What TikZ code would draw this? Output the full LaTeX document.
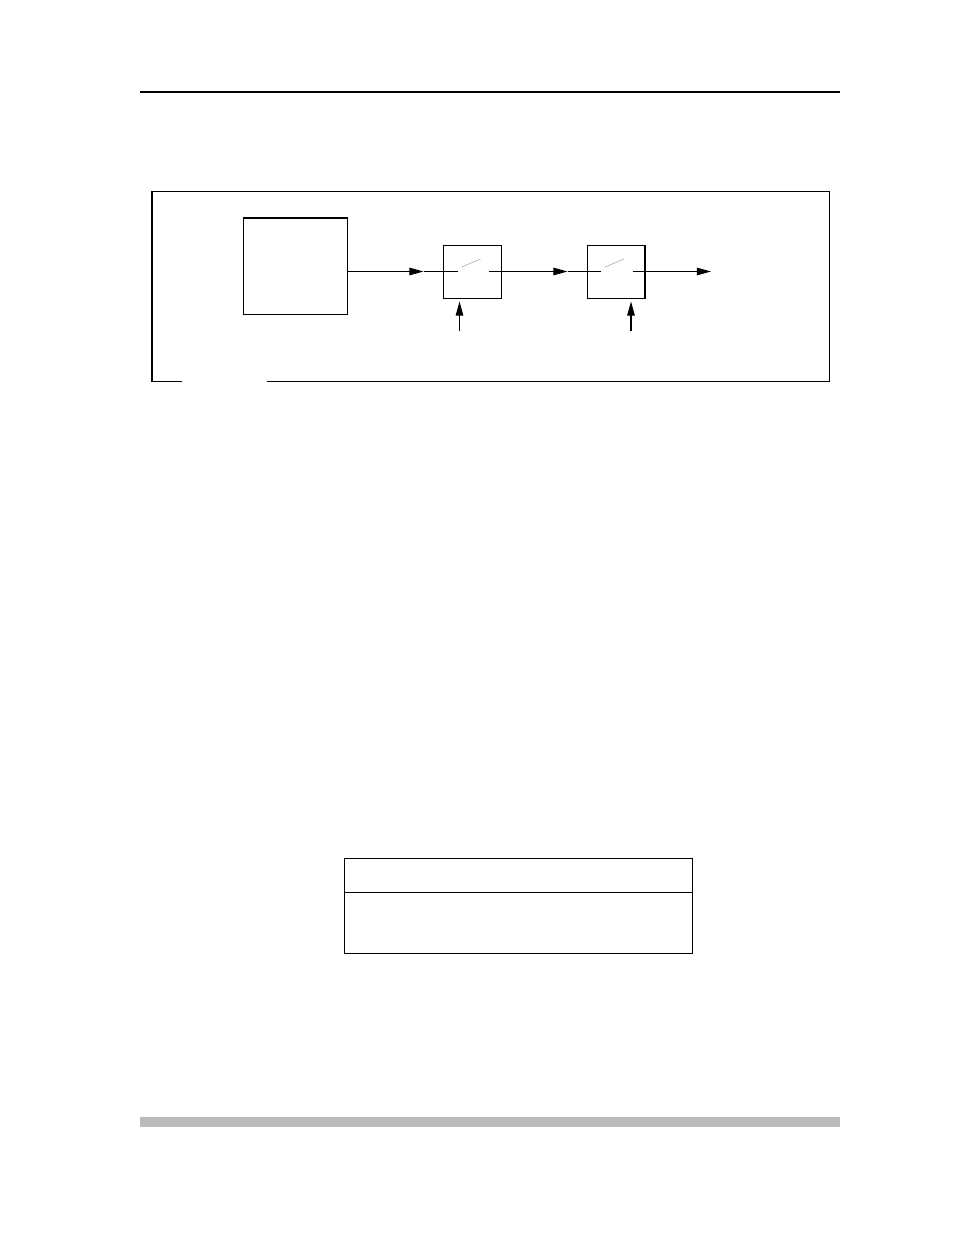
\documentclass[tikz,border=0pt]{standalone}
\usetikzlibrary{arrows.meta,shapes.multipart,positioning}
\begin{document}
\begin{tikzpicture}[x=0.6415pt,y=-0.6415pt,line width=0.65pt,blk/.style={draw,rectangle,inner sep=0pt},sig/.style={-{Triangle[length=9pt,width=4.8pt]}},blade/.style={draw=gray!65,line width=0.4pt}]
\useasboundingbox (0,0) rectangle (954,1235);
% page rules
\draw[line width=1.3pt] (140,92) -- (840,92);
\fill[black!27] (140,1117) rectangle (840,1127);
% figure frame, open at the caption
\draw (182,381) -- (152,381) -- (152,191) -- (829,191) -- (829,381) -- (267,381);
\node[blk,minimum width=66.1pt,minimum height=61.6pt] (src) at (295.5,266) {};
\node[blk,minimum width=37.8pt,minimum height=34pt] (sw1) at (472.5,271.5) {};
\node[blk,minimum width=37.2pt,minimum height=34pt] (sw2) at (616,271.5) {};
\foreach \n/\x in {1/472.5,2/616}{
\coordinate (in\n) at (\x-15,271.5);
\coordinate (out\n) at (\x+16.5,271.5);
\draw[blade] (\x-11,267) -- (\x+8,259);
}
\coordinate (a1) at (423.5,271.5);
\coordinate (a2) at (567.5,271.5);
\coordinate (dout) at (711,271.5);
\coordinate (c1) at (459.5,331);
\coordinate (c2) at (631,331);
\draw[sig] (src.east |- a1) -- (a1); \draw (a1) -- (in1);
\draw[sig] (out1) -- (a2); \draw (a2) -- (in2);
\draw[sig] (out2) -- (dout);
\draw[sig,shorten >=1.9pt] (c1) -- (c1 |- sw1.south);
\draw[sig,shorten >=1.9pt] (c2) -- (c2 |- sw2.south);
% table
\node[draw,anchor=north west,rectangle split,rectangle split parts=2,inner sep=0pt,text width=223.2pt] (tbl) at (344,857.5) {\rule{0pt}{21.5pt}\nodepart{second}\rule{0pt}{38.6pt}};
\end{tikzpicture}
\end{document}
